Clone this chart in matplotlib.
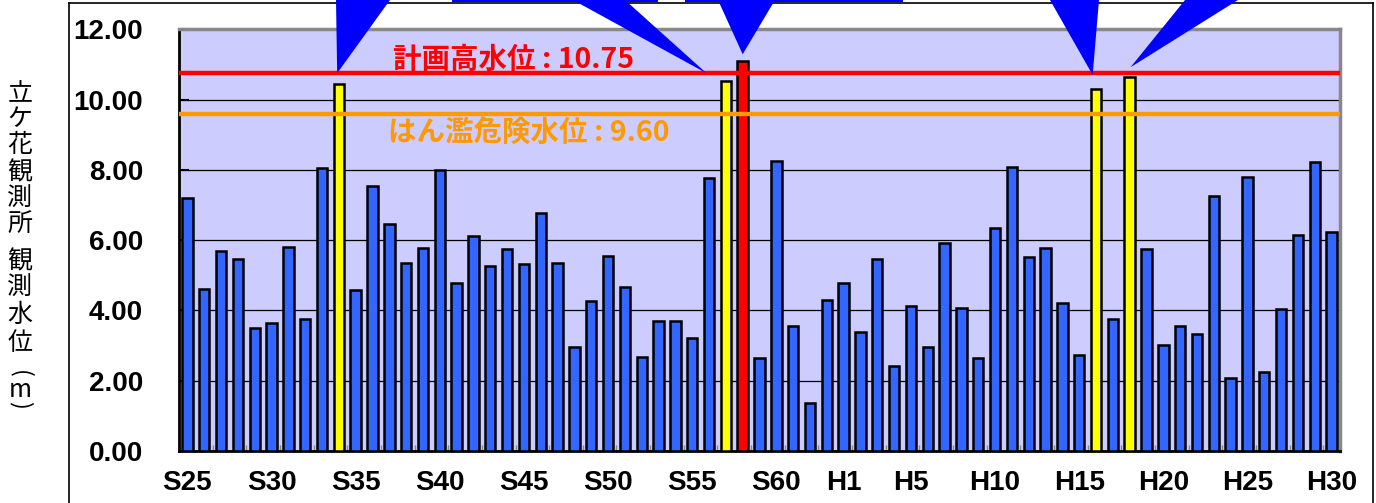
import numpy as np
import matplotlib
matplotlib.use('Agg')
from matplotlib import pyplot as plt
from matplotlib.patches import Polygon, Rectangle
from matplotlib.lines import Line2D

# annual peak water level at Tategahana, S25 (1950) .. H30 (2018)
years = ['S%d' % n for n in range(25, 64)] + ['H%d' % n for n in range(1, 31)]
levels = [7.20, 4.60, 5.69, 5.45, 3.51, 3.63, 5.81, 3.77, 8.06, 10.43,
          4.58, 7.55, 6.47, 5.34, 5.78, 8.01, 4.79, 6.13, 5.27, 5.76,
          5.32, 6.78, 5.34, 2.97, 4.26, 5.55, 4.66, 2.67, 3.69, 3.71,
          3.21, 7.76, 10.53, 11.11, 2.64, 8.25, 3.55, 1.36, 4.30,
          4.79, 3.40, 5.47, 2.42, 4.13, 2.97, 5.92, 4.07, 2.65, 6.34,
          8.08, 5.51, 5.78, 4.22, 2.72, 10.31, 3.77, 10.63, 5.76, 3.03,
          3.55, 3.32, 7.25, 2.07, 7.80, 2.24, 4.04, 6.14, 8.23, 6.24]
flood_years = ['S34', 'S57', 'H16', 'H18']
record_year = 'S58'
tick_years = ['S25', 'S30', 'S35', 'S40', 'S45', 'S50', 'S55', 'S60',
              'H1', 'H5', 'H10', 'H15', 'H20', 'H25', 'H30']
plan_level = 10.75
danger_level = 9.60

W, H = 1376, 503
fig = plt.figure(figsize=(W / 100, H / 100), dpi=100)
ax = fig.add_axes([179 / W, 1 - 451 / H, (1340 - 179) / W, (451 - 29.3) / H])
ax.set_facecolor('#CCCCFF')

x = np.arange(len(years))
colors = []
for y in years:
    if y == record_year:
        colors.append('#FF0000')
    elif y in flood_years:
        colors.append('#FFFF00')
    else:
        colors.append('#3366FF')

ax.bar(x, levels, width=0.62, color=colors, edgecolor='black', linewidth=1.8, zorder=3)

ax.set_xlim(-0.5, len(years) - 0.5)
ax.set_ylim(0, 12)
ax.set_yticks(np.arange(0, 12.1, 2))
ax.set_yticklabels(['%.2f' % v for v in np.arange(0, 12.1, 2)])
ax.set_xticks([years.index(t) for t in tick_years])
ax.set_xticklabels(tick_years)
ax.set_xticks(np.arange(1.5, len(years) - 0.5, 2), minor=True)
ax.grid(axis='y', color='black', linewidth=0.9, zorder=1)
ax.set_axisbelow(True)

for lab in ax.get_yticklabels() + ax.get_xticklabels():
    lab.set_fontfamily('Liberation Sans')
    lab.set_fontweight('bold')
    lab.set_fontsize(20)
ax.tick_params(axis='y', direction='in', length=7, width=1.5, pad=26)
ax.tick_params(axis='x', which='major', length=0, pad=14)
ax.tick_params(axis='x', which='minor', direction='in', length=4, width=1, color='#888888')

for s in ['top', 'right']:
    ax.spines[s].set_color('#888888')
    ax.spines[s].set_linewidth(2.5)
for s in ['left', 'bottom']:
    ax.spines[s].set_color('black')
    ax.spines[s].set_linewidth(2)

# reference levels
ax.axhline(plan_level, color='#FF0000', linewidth=3.2, zorder=4)
ax.axhline(danger_level, color='#FF9900', linewidth=3.2, zorder=4)
jp = ['Noto Sans CJK JP', 'DejaVu Sans']
ax.text(12.2, plan_level + 0.38, '計画高水位 : %.2f' % plan_level, color='#FF0000',
        fontsize=20.5, fontweight='bold', family=jp, va='center', ha='left', zorder=5)
ax.text(11.9, danger_level - 0.56, 'はん濫危険水位 : %.2f' % danger_level, color='#FF9900',
        fontsize=20.5, fontweight='bold', family=jp, va='center', ha='left', zorder=5)

# outer frame
frame_kw = dict(color='black', linewidth=1.2, transform=fig.transFigure)
fig.add_artist(Line2D([69 / W, 69 / W], [0, 1 - 3 / H], **frame_kw))
fig.add_artist(Line2D([69 / W, 1373 / W], [1 - 3 / H, 1 - 3 / H], **frame_kw))
fig.add_artist(Line2D([1373 / W, 1373 / W], [0, 1 - 3 / H], **frame_kw))

# callout pointers coming down from the boxes above the chart
callouts = [
    ((years.index('S34') - 0.1, plan_level), (336, 390)),
    ((years.index('S57') - 1.15, plan_level), (573, 625)),
    ((years.index('S58'), 11.29), (718, 775)),
    ((years.index('H16') - 0.2, plan_level - 0.05), (1050, 1099)),
    ((years.index('H18') + 0.05, 10.92), (1185, 1238)),
]
to_fig = fig.transFigure.inverted()
for tip, (b0, b1) in callouts:
    tx, ty = to_fig.transform(ax.transData.transform(tip))
    poly = Polygon([(tx, ty), (b0 / W, 1.0), (b1 / W, 1.0)], closed=True,
                   facecolor='#0000FF', edgecolor='none', transform=fig.transFigure,
                   zorder=10)
    fig.add_artist(poly)
for b0, b1 in [(452, 658), (685, 903)]:
    fig.add_artist(Rectangle((b0 / W, 1 - 2 / H), (b1 - b0) / W, 2 / H,
                             facecolor='#0000FF', edgecolor='none',
                             transform=fig.transFigure, zorder=10))

# vertical axis title, one character per row
title_chars = ['立', 'ケ', '花', '観', '測', '所', '観', '測', '水', '位']
title_rows = [94, 119, 145, 172, 199, 224, 261, 288, 315, 343]
for ch, row in zip(title_chars, title_rows):
    fig.text(20 / W, 1 - row / H, ch, fontsize=18, family=jp,
             ha='center', va='center', color='black')
# unit in vertical writing: brackets turned, letter upright
fig.text(20 / W, 1 - 374 / H, '(', fontsize=17, family=jp, rotation=-90,
         ha='center', va='center', color='black')
fig.text(20 / W, 1 - 390 / H, 'm', fontsize=18, family=jp,
         ha='center', va='center', color='black')
fig.text(20 / W, 1 - 405 / H, ')', fontsize=17, family=jp, rotation=-90,
         ha='center', va='center', color='black')

fig.savefig('out.png', dpi=100)
